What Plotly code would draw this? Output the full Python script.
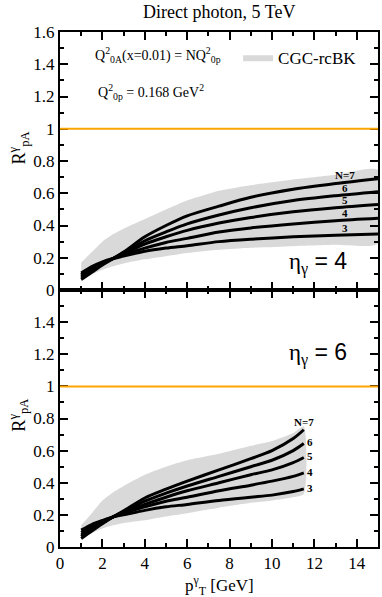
import numpy as np
import plotly.graph_objects as go

# --- eta = 4 (top panel) ---
pt_eta4 = [1, 1.5, 2, 2.5, 3, 4, 5, 6, 7.5, 9, 11, 13, 15]
eta4_n7 = [0.065, 0.11, 0.155, 0.195, 0.235, 0.33, 0.40, 0.46, 0.52, 0.575, 0.625, 0.66, 0.69]
eta4_n6 = [0.075, 0.12, 0.16, 0.195, 0.23, 0.305, 0.36, 0.41, 0.465, 0.51, 0.555, 0.585, 0.61]
eta4_n5 = [0.085, 0.13, 0.165, 0.195, 0.225, 0.285, 0.33, 0.37, 0.415, 0.45, 0.485, 0.51, 0.53]
eta4_n4 = [0.095, 0.14, 0.17, 0.195, 0.22, 0.26, 0.295, 0.32, 0.36, 0.385, 0.41, 0.43, 0.445]
eta4_n3 = [0.105, 0.145, 0.175, 0.195, 0.21, 0.24, 0.26, 0.275, 0.30, 0.315, 0.33, 0.34, 0.348]
eta4_band_hi = [0.17, 0.235, 0.30, 0.345, 0.38, 0.44, 0.50, 0.555, 0.615, 0.65, 0.685, 0.715, 0.745]
eta4_band_lo = [0.055, 0.095, 0.125, 0.148, 0.165, 0.19, 0.21, 0.23, 0.25, 0.262, 0.272, 0.28, 0.288]

# --- eta = 6 (bottom panel) ---
pt_eta6 = [1, 1.5, 2, 2.5, 3, 4, 5, 6, 7.5, 9, 10, 11, 11.5]
eta6_n7 = [0.053, 0.10, 0.145, 0.187, 0.225, 0.305, 0.36, 0.41, 0.48, 0.55, 0.60, 0.675, 0.73]
eta6_n6 = [0.065, 0.11, 0.15, 0.187, 0.22, 0.285, 0.335, 0.38, 0.44, 0.50, 0.54, 0.60, 0.644]
eta6_n5 = [0.075, 0.12, 0.155, 0.187, 0.215, 0.265, 0.31, 0.35, 0.40, 0.45, 0.48, 0.525, 0.557]
eta6_n4 = [0.09, 0.13, 0.16, 0.187, 0.21, 0.25, 0.285, 0.31, 0.35, 0.385, 0.41, 0.44, 0.462]
eta6_n3 = [0.105, 0.14, 0.165, 0.187, 0.20, 0.228, 0.25, 0.265, 0.29, 0.31, 0.323, 0.345, 0.362]
eta6_band_hi = [0.136, 0.21, 0.29, 0.34, 0.38, 0.45, 0.50, 0.54, 0.58, 0.63, 0.66, 0.71, 0.75]
eta6_band_lo = [0.047, 0.085, 0.115, 0.135, 0.15, 0.167, 0.19, 0.21, 0.245, 0.275, 0.29, 0.31, 0.33]

n_labels = ['N=7', '6', '5', '4', '3']
ytick_vals = [0, 0.2, 0.4, 0.6, 0.8, 1.0, 1.2, 1.4, 1.6]
ytick_text = ['0', '0.2', '0.4', '0.6', '0.8', '1', '1.2', '1.4', '1.6']
xtick_vals = [0, 2, 4, 6, 8, 10, 12, 14]

FONT = 'Liberation Serif'
BAND = '#d9d9d9'

fig = go.Figure()


def add_panel(pt, curves, hi, lo, xa, ya, legend):
	# banda gris
	fig.add_trace(go.Scatter(
		x=pt + pt[::-1], y=hi + lo[::-1], fill='toself', fillcolor=BAND,
		line=dict(width=0, shape='spline', smoothing=0.6), mode='lines',
		name='CGC-rcBK', showlegend=legend, xaxis=xa, yaxis=ya, hoverinfo='skip'))
	for c in curves:
		fig.add_trace(go.Scatter(
			x=pt, y=c, mode='lines', showlegend=False, xaxis=xa, yaxis=ya,
			line=dict(color='black', width=3, shape='spline', smoothing=0.8)))


curves4 = [eta4_n7, eta4_n6, eta4_n5, eta4_n4, eta4_n3]
curves6 = [eta6_n7, eta6_n6, eta6_n5, eta6_n4, eta6_n3]
add_panel(pt_eta4, curves4, eta4_band_hi, eta4_band_lo, 'x2', 'y2', True)
add_panel(pt_eta6, curves6, eta6_band_hi, eta6_band_lo, 'x', 'y', False)

# etiquetas N de las curvas
for lab, c in zip(n_labels, curves4):
	yv = float(np.interp(13.45, pt_eta4, c)) + 0.045
	fig.add_annotation(x=13.45, y=yv, xref='x2', yref='y2', text='<b>' + lab + '</b>',
	                   showarrow=False, font=dict(family=FONT, size=11, color='black'))
for i, (lab, c) in enumerate(zip(n_labels, curves6)):
	if i == 0:
		fig.add_annotation(x=pt_eta6[-1], y=c[-1] + 0.047, xref='x', yref='y',
		                   text='<b>' + lab + '</b>', showarrow=False,
		                   font=dict(family=FONT, size=11, color='black'))
	else:
		fig.add_annotation(x=pt_eta6[-1] + 0.05, y=c[-1] + 0.008, xref='x', yref='y',
		                   text='<b>' + lab + '</b>', showarrow=False, xanchor='left',
		                   font=dict(family=FONT, size=11, color='black'))

# linea en R=1
fig.add_shape(type='line', xref='x2 domain', yref='y2', x0=0, x1=1, y0=1, y1=1,
              line=dict(color='#FFA500', width=2))
fig.add_shape(type='line', xref='x domain', yref='y', x0=0, x1=1, y0=1, y1=1,
              line=dict(color='#FFA500', width=2))

# textos
txt = dict(family=FONT, color='black')
eta_txt = 'η<sub>γ</sub><span style="font-family:Liberation Sans"> = %d</span>'
fig.add_annotation(x=0.5, y=1.039, xref='paper', yref='paper', text='Direct photon, 5 TeV',
                   yanchor='middle', showarrow=False, font=dict(size=18, **txt))
fig.add_annotation(x=1.55, y=1.46, xref='x2', yref='y2', xanchor='left', yanchor='middle',
                   text='Q<sup>2</sup><sub>0A</sub>(x=0.01) = NQ<sup>2</sup><sub>0p</sub>',
                   showarrow=False, font=dict(size=14, **txt))
fig.add_annotation(x=1.7, y=1.23, xref='x2', yref='y2', xanchor='left', yanchor='middle',
                   text='Q<sup>2</sup><sub>0p</sub> = 0.168 GeV<sup>2</sup>',
                   showarrow=False, font=dict(size=14, **txt))
fig.add_annotation(x=10.7, y=0.17, xref='x2', yref='y2', xanchor='left',
                   text=eta_txt % 4, showarrow=False, font=dict(size=23, **txt))
fig.add_annotation(x=10.7, y=1.20, xref='x', yref='y', xanchor='left',
                   text=eta_txt % 6, showarrow=False, font=dict(size=23, **txt))
fig.add_annotation(x=-0.131, y=0.88, xref='paper', yref='y2', textangle=-90,
                   xanchor='center', yanchor='middle',
                   text='R<sup>γ</sup><sub>pA</sub>', showarrow=False, font=dict(size=18, **txt))
fig.add_annotation(x=-0.131, y=0.82, xref='paper', yref='y', textangle=-90,
                   xanchor='center', yanchor='middle',
                   text='R<sup>γ</sup><sub>pA</sub>', showarrow=False, font=dict(size=18, **txt))
fig.add_annotation(x=0.5, y=-0.074, xref='paper', yref='paper', yanchor='middle',
                   text='p<sup>γ</sup><sub>T</sub> [GeV]', showarrow=False, font=dict(size=17, **txt))

ax = dict(showline=True, linecolor='black', linewidth=2, mirror='ticks', ticks='inside',
          ticklen=8, tickwidth=2, tickcolor='black', showgrid=False, zeroline=False,
          tickfont=dict(family=FONT, size=17, color='black'))
mx = dict(ticks='inside', ticklen=4, tickwidth=2, tickcolor='black', dtick=1, showgrid=False)
my = dict(ticks='inside', ticklen=4, tickwidth=2, tickcolor='black', dtick=0.1, showgrid=False)
split = 257 / 515

fig.update_layout(
	width=382, height=597,
	margin=dict(l=60, r=2, t=32, b=50),
	plot_bgcolor='white', paper_bgcolor='white',
	xaxis=dict(range=[0, 15], tickvals=xtick_vals, anchor='y', minor=mx, **ax),
	xaxis2=dict(range=[0, 15], tickvals=xtick_vals, anchor='y2', matches='x',
	            showticklabels=False, minor=mx, **ax),
	yaxis=dict(range=[0, 1.6], domain=[0, split], tickvals=ytick_vals,
	           ticktext=ytick_text[:-1] + [''], anchor='x', minor=my, **ax),
	yaxis2=dict(range=[0, 1.6], domain=[split, 1], tickvals=ytick_vals,
	            ticktext=ytick_text, anchor='x2', minor=my, **ax),
	legend=dict(x=0.56, y=0.985, xanchor='left', yanchor='top', bgcolor='rgba(0,0,0,0)',
	            font=dict(family=FONT, size=17, color='black'), itemwidth=30),
)

fig.write_html('out.html', config={'displayModeBar': False},
               post_script="document.body.style.margin='0px';")
